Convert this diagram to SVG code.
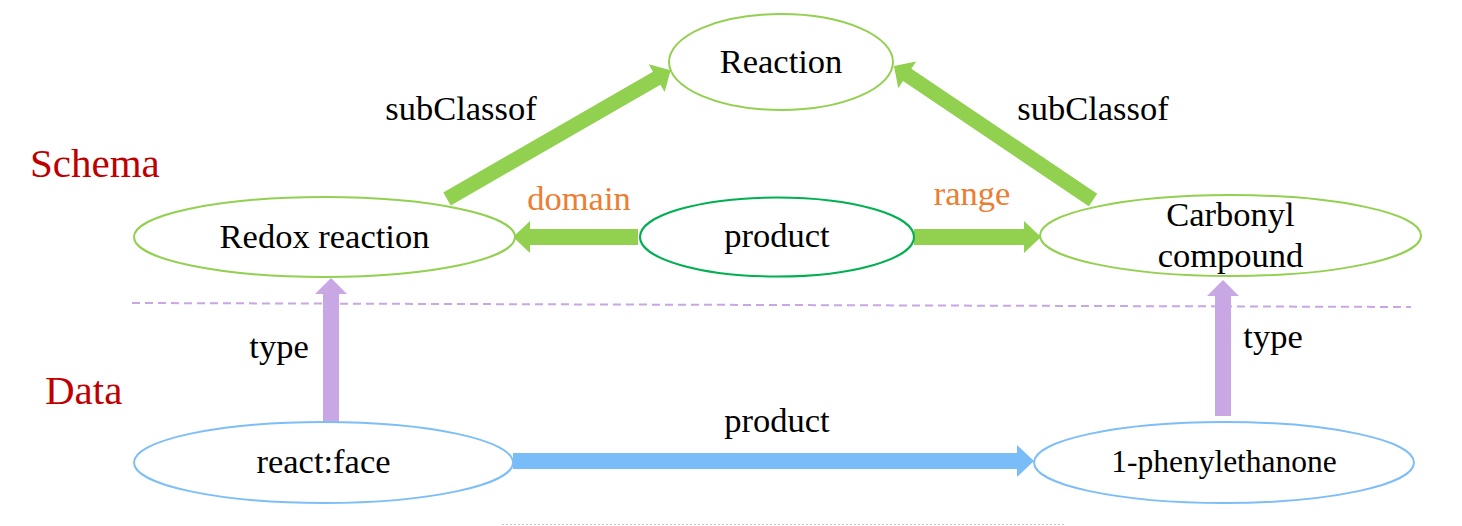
<svg xmlns="http://www.w3.org/2000/svg" width="1462" height="526" viewBox="0 0 1462 526">
<style>
.node{fill:#fff;stroke-width:2}
.g{stroke:#92D050}
.dg{stroke:#00B050}
.b{stroke:#7DBEF8}
.ag{fill:#92D050}
.ap{fill:#C9A6E4}
.ab{fill:#78BDF8}
</style>
<rect width="1462" height="526" fill="#fff"/>
<line x1="132" y1="303" x2="1411" y2="307" stroke="#C9A6E4" stroke-width="2" stroke-dasharray="8,5"/>
<line x1="502" y1="524.5" x2="1065" y2="524.5" stroke="#C8C8C8" stroke-width="1" stroke-dasharray="2,2"/>
<text x="30" y="177" font-family="Liberation Serif" font-size="41" fill="#C00000">Schema</text>
<text x="45" y="404" font-family="Liberation Serif" font-size="41" fill="#C00000">Data</text>
<g id="connectors">
<polygon class="ag" points="0,-7.5 242,-7.5 242,-16 258,0 242,16 242,7.5 0,7.5" transform="translate(447,199) rotate(-29.94)"/>
<polygon class="ag" points="0,-7.5 224,-7.5 224,-16 240,0 224,16 224,7.5 0,7.5" transform="translate(1093,200) rotate(-146.04)"/>
<polygon class="ag" points="638,229 530,229 530,221 513,237 530,253 530,245 638,245"/>
<polygon class="ag" points="914,229 1024,229 1024,221 1041,237 1024,253 1024,245 914,245"/>
<polygon class="ap" points="323,422 323,294 315,294 331,278 347,294 339,294 339,422"/>
<polygon class="ap" points="1215,416 1215,296 1207,296 1223,280 1239,296 1231,296 1231,416"/>
<polygon class="ab" points="513,453 1017,453 1017,445 1034,461 1017,477 1017,469 513,469"/>
<text x="461" y="120" font-family="Liberation Serif" font-size="34.5" text-anchor="middle">subClassof</text>
<text x="1093" y="120" font-family="Liberation Serif" font-size="34.5" text-anchor="middle">subClassof</text>
<text x="579" y="210" font-family="Liberation Serif" font-size="34.5" text-anchor="middle" fill="#ED7D31">domain</text>
<text x="972" y="205" font-family="Liberation Serif" font-size="34.5" text-anchor="middle" fill="#ED7D31">range</text>
<text x="279" y="358" font-family="Liberation Serif" font-size="34.5" text-anchor="middle">type</text>
<text x="1273" y="348" font-family="Liberation Serif" font-size="34.5" text-anchor="middle">type</text>
<text x="777" y="432" font-family="Liberation Serif" font-size="34.5" text-anchor="middle">product</text>
</g>
<g id="reaction">
<ellipse class="node g" cx="781" cy="62" rx="112" ry="48"/>
<text x="781" y="73" font-family="Liberation Serif" font-size="34.5" text-anchor="middle">Reaction</text>
</g>
<g id="redox">
<ellipse class="node g" cx="324.5" cy="237" rx="190.5" ry="40"/>
<text x="324.5" y="248" font-family="Liberation Serif" font-size="34.5" text-anchor="middle">Redox reaction</text>
</g>
<g id="product">
<ellipse class="node dg" cx="777" cy="237" rx="137" ry="39.5"/>
<text x="777" y="247" font-family="Liberation Serif" font-size="34.5" text-anchor="middle">product</text>
</g>
<g id="carbonyl">
<ellipse class="node g" cx="1230.5" cy="235.5" rx="190.5" ry="40.5"/>
<text x="1230.5" y="226" font-family="Liberation Serif" font-size="34.5" text-anchor="middle">Carbonyl</text>
<text x="1230.5" y="267" font-family="Liberation Serif" font-size="34.5" text-anchor="middle">compound</text>
</g>
<g id="reactface">
<ellipse class="node b" cx="323.5" cy="462.5" rx="189.5" ry="40.5"/>
<text x="323.5" y="473" font-family="Liberation Serif" font-size="34.5" text-anchor="middle">react:face</text>
</g>
<g id="phenylethanone">
<ellipse class="node b" cx="1224" cy="462.5" rx="190" ry="40.5"/>
<text x="1224" y="472" font-family="Liberation Serif" font-size="31.5" text-anchor="middle">1-phenylethanone</text>
</g>
</svg>
